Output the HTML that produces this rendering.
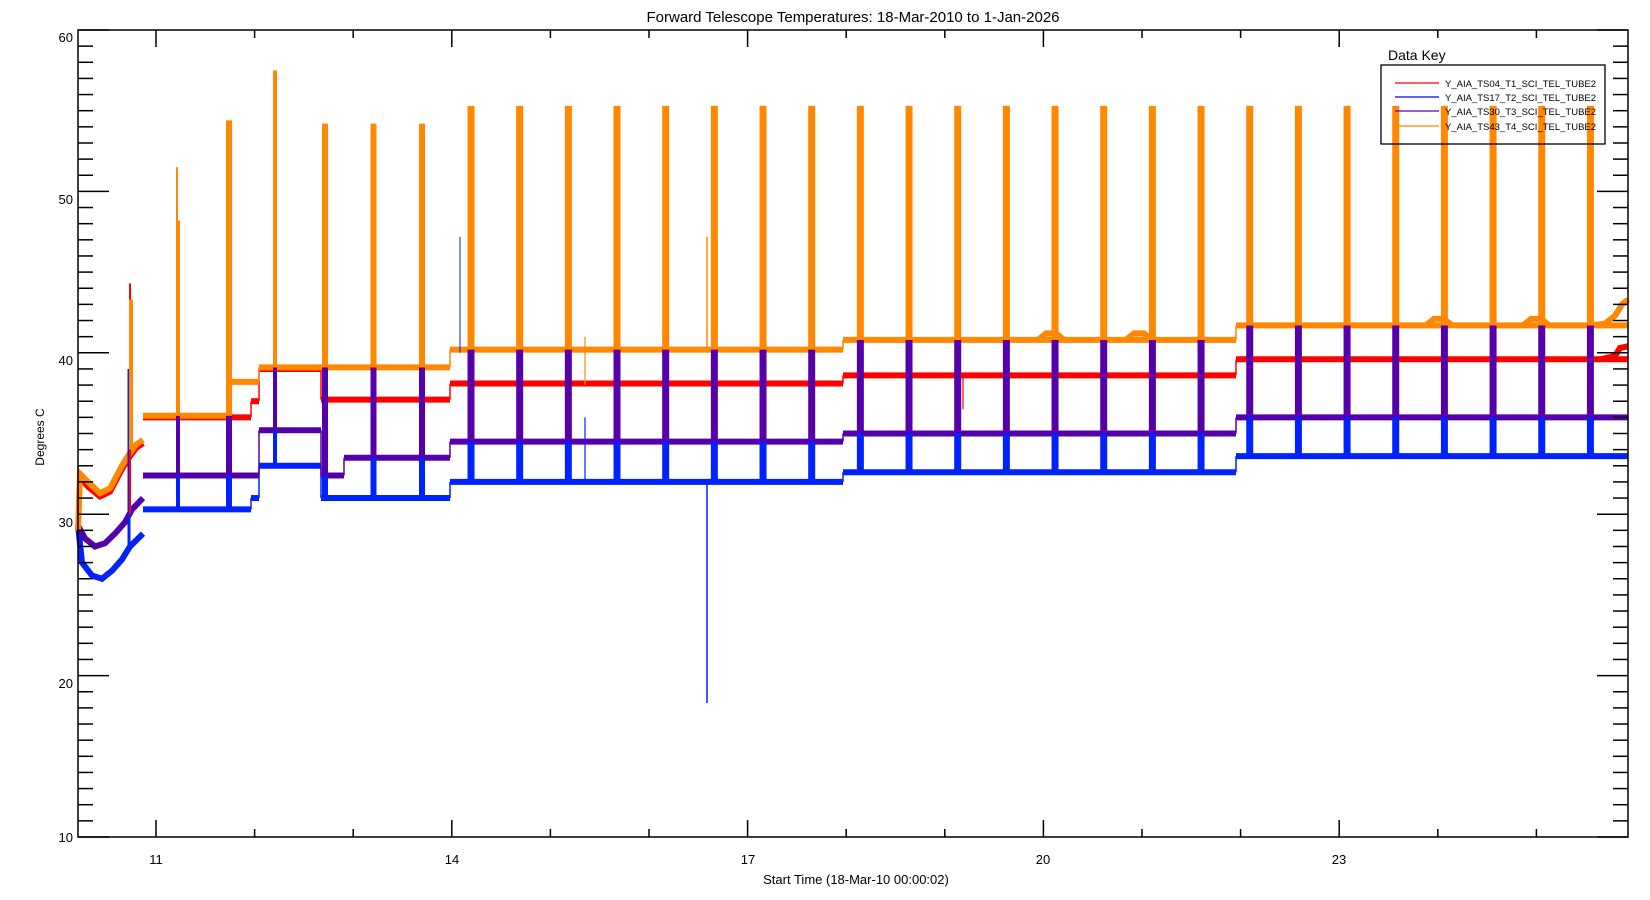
<!DOCTYPE html>
<html><head><meta charset="utf-8"><style>
body{margin:0;background:#fff;}
svg{display:block;font-family:"Liberation Sans",sans-serif;}
</style></head><body>
<svg id="s" width="1650" height="900" xmlns="http://www.w3.org/2000/svg">
<text x="853" y="22" font-size="15" text-anchor="middle">Forward Telescope Temperatures: 18-Mar-2010 to 1-Jan-2026</text>
<text x="44" y="437" font-size="12" text-anchor="middle" transform="rotate(-90 44 437)">Degrees C</text>
<text x="856" y="884" font-size="13" text-anchor="middle">Start Time (18-Mar-10 00:00:02)</text>
<g font-size="13" text-anchor="end">
<text x="73" y="42">60</text><text x="73" y="204">50</text><text x="73" y="365">40</text>
<text x="73" y="527">30</text><text x="73" y="688">20</text><text x="73" y="842">10</text>
</g>
<g font-size="13" text-anchor="middle">
<text x="156" y="864">11</text><text x="452" y="864">14</text><text x="748" y="864">17</text><text x="1043" y="864">20</text><text x="1339" y="864">23</text>
</g>
<g id="data"></g>
<g id="axes" stroke="#000" stroke-width="1.5" fill="none"></g>
<text x="1388" y="60" font-size="14">Data Key</text>
<rect x="1388" y="65" width="224" height="79" fill="none" stroke="#000" stroke-width="1.3" transform="translate(-7,0)"/>
<g stroke-width="1.3">
<line x1="1395" y1="83" x2="1439" y2="83" stroke="#f00"/>
<line x1="1395" y1="97" x2="1439" y2="97" stroke="#00f"/>
<line x1="1395" y1="111" x2="1439" y2="111" stroke="#5a00b0"/>
<line x1="1395" y1="126" x2="1439" y2="126" stroke="#ff8800"/>
</g>
<g font-size="9.5">
<text x="1445" y="87">Y_AIA_TS04_T1_SCI_TEL_TUBE2</text>
<text x="1445" y="101">Y_AIA_TS17_T2_SCI_TEL_TUBE2</text>
<text x="1445" y="115">Y_AIA_TS30_T3_SCI_TEL_TUBE2</text>
<text x="1445" y="130">Y_AIA_TS43_T4_SCI_TEL_TUBE2</text>
</g>
</svg>
<script>
const NS="http://www.w3.org/2000/svg";
const y=v=>30+(60-v)*16.14;
const L=78,R=1628,T=30,B=837;
const ax=document.getElementById('axes'),dg=document.getElementById('data');
function el(p,t,a){const e=document.createElementNS(NS,t);for(const k in a)e.setAttribute(k,a[k]);p.appendChild(e);return e;}
el(ax,'rect',{x:L,y:T,width:R-L,height:B-T});
for(let v=10;v<=60;v++){const Y=y(v);const len=v%10==0?31:15;
 el(ax,'line',{x1:L,y1:Y,x2:L+len,y2:Y});el(ax,'line',{x1:R,y1:Y,x2:R-len,y2:Y});}
for(let yr=2011;yr<=2025;yr++){const X=156+(yr-2011)*98.6;const len=(yr-2011)%3==0?17:8;
 el(ax,'line',{x1:X,y1:T,x2:X,y2:T+len});el(ax,'line',{x1:X,y1:B,x2:X,y2:B-len});}
const C={r:"#ff0000",b:"#0022ff",p:"#5500aa",o:"#ff8800"};
const steps={
 b:[[143,251,30.3],[251,259,31],[259,321,33],[321,450,31],[450,843,32],[843,1236,32.6],[1236,1628,33.6]],
 p:[[143,259,32.4],[259,321,35.2],[321,344,32.4],[344,450,33.5],[450,843,34.5],[843,1236,35],[1236,1628,36]],
 r:[[143,251,36],[251,259,37],[259,321,39],[321,450,37.1],[450,843,38.1],[843,1236,38.6],[1236,1628,39.6]],
 o:[[143,231,36.1],[231,259,38.2],[259,450,39.1],[450,843,40.2],[843,1236,40.8],[1236,1628,41.7]]
};
const early={
 o:[[78,29],[80,32.5],[88,32],[100,31.3],[110,31.6],[122,33],[130,33.8],[136,34.3],[143,34.6]],
 r:[[80,32.3],[88,31.7],[100,31.1],[110,31.4],[122,32.8],[130,33.6],[136,34.1],[143,34.4]],
 p:[[78,29.3],[85,28.5],[95,28],[105,28.2],[115,28.8],[125,29.5],[132,30.3],[143,31]],
 b:[[78,29.3],[82,27],[92,26.2],[102,26],[112,26.5],[122,27.2],[130,28],[143,28.8]]
};
function poly(pts,c,w){el(dg,'polyline',{points:pts.map(p=>p[0]+','+y(p[1])).join(' '),fill:'none',stroke:c,'stroke-width':w});}
function line(x1,v1,x2,v2,c,w){el(dg,'line',{x1:x1,y1:y(v1),x2:x2,y2:y(v2),stroke:c,'stroke-width':w});}
function rect(x,w,v1,v2,c){el(dg,'rect',{x:x-w/2,y:y(Math.max(v1,v2)),width:w,height:Math.abs(y(v1)-y(v2)),fill:c});}
const val=(k,x)=>{for(const s of steps[k])if(x>=s[0]&&x<s[1])return s[2];return steps[k][steps[k].length-1][2];};
for(const k of ['b','p','r','o']){
 poly(early[k],C[k],6);
 for(const s of steps[k])line(s[0],s[2],s[1],s[2],C[k],6);
 for(let i=1;i<steps[k].length;i++)line(steps[k][i][0],steps[k][i-1][2],steps[k][i][0],steps[k][i][2],C[k],1.5);
}
poly([[1590,41.7],[1605,41.8],[1615,42.3],[1622,43],[1628,43.3]],C.o,6);
poly([[1600,39.6],[1615,39.8],[1620,40.3],[1628,40.4]],C.r,6);
for(const bx of [1050,1138,1438,1535]){const o=bx>1236?0.9:0;poly([[bx-12,40.8+o],[bx-4,41.2+o],[bx+6,41.2+o],[bx+14,40.8+o]],C.o,6);}
rect(129,3,28,39,C.b);rect(130,2,30,44.3,C.r);rect(131,4,34,43.3,C.o);
const sp=[[177,51.5,2],[179,48.2,2],[229,54.4,6],[275,57.5,4],[325,54.2,6],[373.5,54.2,6],[422,54.2,6]];
for(let k=0;k<24;k++)sp.push([471+k*48.67,55.3,7]);
for(const [x,top,w] of sp){
 const ob=val('o',x),pb=val('p',x),bb=val('b',x);
 rect(x,w,bb,pb,C.b);rect(x,w,pb,ob,C.p);rect(x,w,ob,top,C.o);
}
line(460,40,460,47.2,C.b,1);line(707,40,707,47.2,C.o,1.5);line(707,32,707,18.3,C.b,1.5);
line(585,32,585,36,C.b,1.2);line(585,38,585,41,C.o,1.2);line(963,38.6,963,36.5,C.r,1.2);
</script>
</body></html>
